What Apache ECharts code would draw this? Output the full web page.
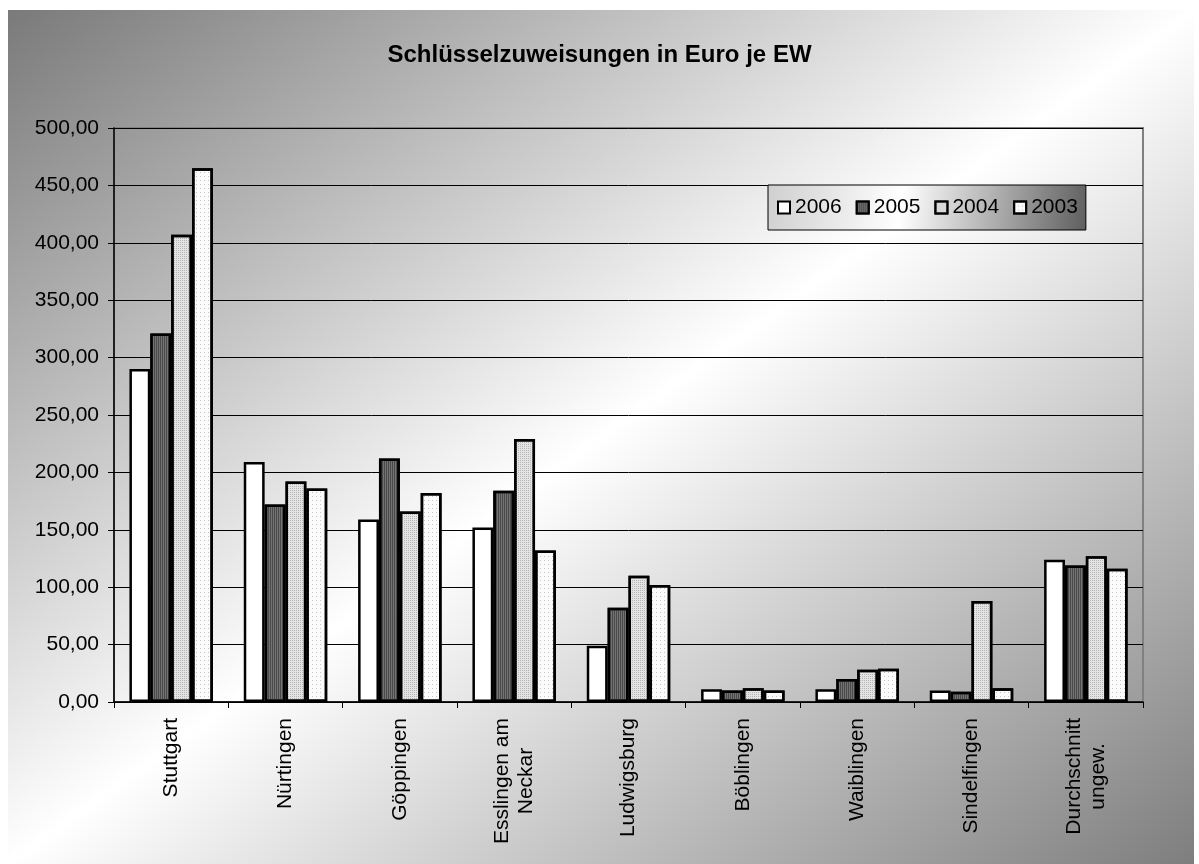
<!DOCTYPE html>
<html>
<head>
<meta charset="utf-8">
<title>Schlüsselzuweisungen in Euro je EW</title>
<script src="https://cdn.jsdelivr.net/npm/echarts@6/dist/echarts.min.js"></script>
<style>
  html, body { margin: 0; padding: 0; background: #ffffff; }
  #chart { width: 1199px; height: 864px; }
</style>
</head>
<body>
<div id="chart"></div>
<script>
// Categories (municipalities) and per-year allocation values in Euro per inhabitant
const categories = [
  'Stuttgart', 'Nürtingen', 'Göppingen', 'Esslingen am\nNeckar', 'Ludwigsburg',
  'Böblingen', 'Waiblingen', 'Sindelfingen', 'Durchschnitt\nungew.'
];
const years = ['2006', '2005', '2004', '2003'];
const values2006 = [290, 209, 159, 152, 49, 11, 11, 10, 124];
const values2005 = [321, 172, 212, 184, 82, 10, 20, 9, 119];
const values2004 = [407, 192, 166, 229, 110, 12, 28, 88, 127];
const values2003 = [465, 186, 182, 132, 102, 10, 29, 12, 116];
const yTicks = { min: 0, max: 500, interval: 50 };

const FONT = '"Liberation Sans", Arial, sans-serif';
const W = 1199, H = 864;

// Diagonal backdrop: grey corners top-left / bottom-right, white band through the other corners
const bg = { x: 8, y: 10, w: 1186, h: 854 };
const L = Math.sqrt(bg.w * bg.w + bg.h * bg.h);
const dx = bg.h / L, dy = bg.w / L;
const cx = bg.x + bg.w / 2, cy = bg.y + bg.h / 2;
const ext = bg.w * bg.h / L;
const bgGradient = new echarts.graphic.LinearGradient(
  cx - dx * ext, cy - dy * ext, cx + dx * ext, cy + dy * ext,
  [
    { offset: 0, color: '#7a7a7a' },
    { offset: 0.5, color: '#ffffff' },
    { offset: 1, color: '#7e7e7e' }
  ],
  true
);

const legendGradient = new echarts.graphic.LinearGradient(0, 0, 1, 1, [
  { offset: 0, color: '#cfcfcf' },
  { offset: 0.42, color: '#ffffff' },
  { offset: 1, color: '#5e5e5e' }
]);

const seriesStyles = [
  { color: '#ffffff', decal: null },
  { color: '#737373', decal: { symbol: 'rect', symbolSize: 1, color: '#4a4a4a', dashArrayX: [1, 1], dashArrayY: [4, 0] } },
  { color: '#e4e4e4', decal: { symbol: 'rect', symbolSize: 1, color: '#b4b4b4', dashArrayX: [1, 1], dashArrayY: [1, 1] } },
  { color: '#fbfbfb', decal: { symbol: 'rect', symbolSize: 1, color: '#c4c4c4', dashArrayX: [1, 3], dashArrayY: [1, 3] } }
];
const seriesData = [values2006, values2005, values2004, values2003];

const chart = echarts.init(document.getElementById('chart'), null, { renderer: 'canvas', width: W, height: H });

const option = {
  backgroundColor: '#ffffff',
  animation: false,
  textStyle: { fontFamily: FONT },
  graphic: [
    {
      type: 'rect',
      z: -10,
      silent: true,
      shape: { x: bg.x, y: bg.y, width: bg.w, height: bg.h },
      style: { fill: bgGradient }
    }
  ],
  title: {
    text: 'Schlüsselzuweisungen in Euro je EW',
    left: 'center',
    top: 38,
    textStyle: { fontFamily: FONT, fontSize: 24, fontWeight: 'bold', color: '#000000' }
  },
  legend: {
    data: years,
    left: 768,
    top: 185,
    orient: 'horizontal',
    padding: [12, 8, 12, 9],
    itemGap: 14,
    itemWidth: 12,
    itemHeight: 12,
    icon: 'rect',
    backgroundColor: legendGradient,
    borderColor: '#000000',
    borderWidth: 1,
    textStyle: { fontFamily: FONT, fontSize: 21, color: '#000000' }
  },
  grid: {
    left: 114,
    right: 56,
    top: 128,
    bottom: 162,
    show: true,
    backgroundColor: 'transparent',
    borderColor: '#808080',
    borderWidth: 2,
    containLabel: false
  },
  xAxis: {
    type: 'category',
    data: categories,
    axisLine: { show: true, lineStyle: { color: '#000000', width: 1.5 } },
    axisTick: { show: true, length: 6, lineStyle: { color: '#000000' } },
    axisLabel: {
      rotate: 90,
      margin: 16,
      interval: 0,
      fontFamily: FONT,
      fontSize: 21,
      color: '#000000',
      lineHeight: 24,
      formatter: function (v) {
        return v.split('\n').map(function (s) { return '{c|' + s + '}'; }).join('\n');
      },
      rich: { c: { align: 'center', fontFamily: FONT, fontSize: 21, color: '#000000', lineHeight: 24 } }
    },
    splitLine: { show: false }
  },
  yAxis: {
    type: 'value',
    min: yTicks.min,
    max: yTicks.max,
    interval: yTicks.interval,
    axisLine: { show: true, lineStyle: { color: '#000000', width: 1.5 } },
    axisTick: { show: true, length: 6, lineStyle: { color: '#000000' } },
    axisLabel: {
      margin: 15,
      fontFamily: FONT,
      fontSize: 21,
      color: '#000000',
      formatter: function (v) { return v.toFixed(2).replace('.', ','); }
    },
    splitLine: { show: true, lineStyle: { color: '#000000', width: 1 } }
  },
  series: years.map(function (y, i) {
    const st = seriesStyles[i];
    const itemStyle = { color: st.color, borderColor: '#000000', borderWidth: 2.5 };
    if (st.decal) itemStyle.decal = st.decal;
    return {
      name: y,
      type: 'bar',
      data: seriesData[i],
      barGap: '0%',
      barCategoryGap: '27%',
      itemStyle: itemStyle,
      emphasis: { disabled: true }
    };
  })
};

chart.setOption(option);
</script>
</body>
</html>
